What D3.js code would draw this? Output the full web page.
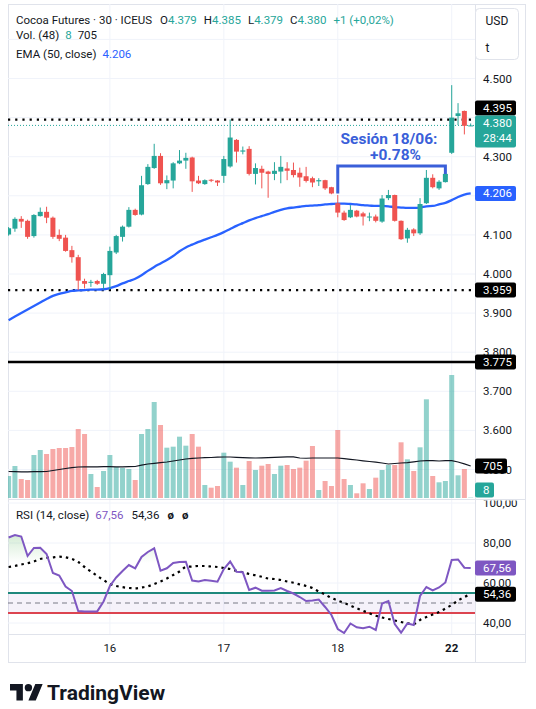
<!DOCTYPE html>
<html>
<head>
<meta charset="utf-8">
<script src="https://cdn.jsdelivr.net/npm/d3@7"></script>
<style>
  body { margin: 0; background: #fff; }
  svg { display: block; font-family: Roboto, "Liberation Sans", sans-serif; }
</style>
</head>
<body>
<svg id="chart" width="536" height="709"></svg>
<script>
// ---- data (30 min bars, 74 visible) ----
const openP = [4.101,4.116,4.141,4.136,4.097,4.148,4.159,4.144,4.100,4.093,
  4.061,4.043,3.982,3.978,3.982,3.975,3.997,4.055,4.095,4.121,
  4.164,4.152,4.230,4.271,4.302,4.232,4.239,4.283,4.290,4.298,
  4.239,4.230,4.241,4.239,4.251,4.275,4.343,4.313,4.320,4.256,
  4.269,4.262,4.256,4.262,4.270,4.266,4.259,4.250,4.245,4.237,
  4.240,4.222,4.181,4.157,4.145,4.162,4.155,4.146,4.147,4.134,
  4.194,4.202,4.136,4.091,4.114,4.104,4.181,4.246,4.219,4.235,
  4.310,4.404,4.417,4.379];
const highP = [4.120,4.145,4.148,4.139,4.153,4.170,4.172,4.147,4.114,4.100,
  4.072,4.049,3.988,3.985,3.985,4.003,4.070,4.100,4.124,4.171,
  4.167,4.251,4.281,4.333,4.309,4.252,4.286,4.317,4.310,4.300,
  4.251,4.242,4.243,4.240,4.302,4.395,4.345,4.326,4.327,4.283,
  4.277,4.264,4.286,4.302,4.286,4.285,4.272,4.274,4.249,4.245,
  4.241,4.223,4.202,4.162,4.176,4.164,4.159,4.157,4.152,4.202,
  4.215,4.203,4.137,4.118,4.117,4.194,4.266,4.255,4.240,4.276,
  4.483,4.437,4.418,4.385];
const lowP = [4.098,4.108,4.118,4.090,4.093,4.147,4.130,4.090,4.084,4.057,
  4.029,3.959,3.963,3.967,3.972,3.961,3.960,4.051,4.083,4.119,
  4.149,4.150,4.228,4.269,4.228,4.217,4.219,4.281,4.269,4.210,
  4.230,4.228,4.235,4.225,4.233,4.272,4.285,4.306,4.252,4.229,
  4.219,4.195,4.240,4.232,4.240,4.247,4.223,4.234,4.222,4.225,
  4.215,4.204,4.145,4.136,4.143,4.145,4.124,4.135,4.132,4.131,
  4.189,4.134,4.087,4.080,4.097,4.100,4.179,4.219,4.215,4.234,
  4.307,4.381,4.357,4.379];
const closeP = [4.117,4.141,4.134,4.095,4.151,4.159,4.144,4.095,4.090,4.059,
  4.043,3.983,3.975,3.980,3.975,4.000,4.059,4.097,4.121,4.164,
  4.151,4.227,4.274,4.302,4.232,4.240,4.283,4.290,4.297,4.237,
  4.232,4.240,4.239,4.234,4.294,4.349,4.313,4.316,4.256,4.271,
  4.259,4.256,4.264,4.274,4.264,4.253,4.247,4.238,4.234,4.240,
  4.219,4.206,4.157,4.138,4.164,4.147,4.147,4.147,4.136,4.193,
  4.202,4.136,4.089,4.113,4.104,4.179,4.246,4.222,4.236,4.256,
  4.400,4.411,4.379,4.380];
const ema50 = [3.882,3.891,3.900,3.909,3.918,3.927,3.936,3.944,3.949,3.953,
  3.957,3.958,3.959,3.960,3.960,3.961,3.964,3.969,3.976,3.982,
  3.988,3.997,4.008,4.018,4.027,4.036,4.046,4.058,4.068,4.075,
  4.082,4.088,4.094,4.100,4.107,4.115,4.123,4.130,4.137,4.143,
  4.148,4.153,4.159,4.164,4.168,4.170,4.172,4.174,4.175,4.176,
  4.178,4.179,4.180,4.180,4.179,4.178,4.176,4.175,4.174,4.174,
  4.173,4.171,4.170,4.169,4.169,4.170,4.173,4.174,4.178,4.182,
  4.189,4.197,4.203,4.206];
const volume = [484,704,418,396,946,1056,968,1078,1100,1100,
  1122,1518,1408,528,242,594,946,682,660,638,
  396,1408,1518,2112,1606,1107,1129,1349,1151,1408,
  1129,286,227,264,997,799,667,286,814,616,
  711,748,528,711,726,638,667,821,1144,176,
  374,264,1496,418,286,103,323,198,447,616,
  726,726,1225,851,594,1115,2171,484,345,374,
  2706,499,638,8];
const volMA = [583,579,576,576,579,581,583,605,627,649,
  667,682,686,686,686,689,689,686,686,689,
  693,722,748,763,777,792,814,836,858,873,
  880,887,891,898,902,902,895,889,884,880,
  884,889,893,898,904,905,880,875,880,880,
  880,880,880,867,851,836,818,803,788,770,
  748,759,770,777,796,814,821,821,814,821,
  821,792,750,705];
const rsi = [82.75,84.0,83.25,73.5,77.5,77.65,74.5,65.0,63.75,58.25,
  56.0,46.0,45.8,45.8,45.8,50.75,58.5,62.75,66.0,69.0,
  67.35,73.0,75.5,77.35,66.15,67.35,70.0,70.5,70.65,61.25,
  60.75,61.5,61.15,60.65,67.0,70.75,65.65,65.35,56.5,57.65,
  56.15,56.15,56.25,57.5,56.0,54.75,53.0,51.0,51.25,51.75,
  48.0,44.0,37.0,35.0,39.75,37.85,37.35,38.15,36.5,49.75,
  51.0,39.5,35.15,39.75,39.0,53.5,58.0,56.25,57.75,60.25,
  71.5,71.75,67.65,67.56];
const rsiMA = [68.0,68.5,69.25,69.85,70.75,72.0,72.5,72.85,73.15,72.85,
  72.0,70.5,68.0,65.75,63.5,61.5,59.5,58.5,57.9,57.5,
  57.35,57.75,58.35,59.5,60.75,62.25,64.0,65.75,68.0,68.25,
  68.5,68.5,68.25,68.0,67.5,67.0,66.1,65.35,64.5,63.85,
  63.1,62.25,62.0,61.5,60.75,60.15,59.25,58.5,57.5,55.75,
  54.25,52.5,51.25,50.0,48.75,47.35,46.1,44.85,43.65,42.75,
  42.0,41.25,40.5,39.85,39.5,41.5,43.0,44.25,45.5,47.25,
  49.0,51.25,53.0,54.36];

const dayIdx = [16, 34, 52, 70];
const dayLabels = ["16", "17", "18", "22"];
const priceTicks = [3.5,3.6,3.7,3.8,3.9,4.0,4.1,4.2,4.3,4.4,4.5,4.6];
const priceLabels = [3.5,3.6,3.7,3.8,3.9,4.0,4.1,4.3,4.5];   // the rest sit under tags
const rsiTicks = [40, 60, 80, 100];
const hLevels = [4.395, 3.959];       // dotted black levels
const supportLine = 3.775;             // solid black level
const rsiBands = [55, 50, 45];
// session annotation: from bar 52 to bar 69
const session = { from: 52, to: 69, p0: 4.206, p1: 4.256, top: 4.276 };

// ---- layout ----
const L = 8, R = 475, AX = 525, TOP = 4, MAINB = 499, RSIB = 634, BOT = 662;
const UP = "#26a69a", DN = "#ef5350";

const svg = d3.select("#chart");
const defs = svg.append("defs");
defs.append("clipPath").attr("id", "clipMain")
  .append("rect").attr("x", L).attr("y", TOP).attr("width", R - L).attr("height", MAINB - TOP);
defs.append("clipPath").attr("id", "clipRsi")
  .append("rect").attr("x", L).attr("y", MAINB).attr("width", R - L).attr("height", RSIB - MAINB);
defs.append("clipPath").attr("id", "clipRsiAxis")
  .append("rect").attr("x", R).attr("y", MAINB + 1.5).attr("width", AX - R).attr("height", RSIB - MAINB);

const x = d3.scaleLinear().domain([0, 73]).range([8.6, 470.7]);
const y = d3.scaleLinear().domain([3.5, 4.5]).range([469.5, 78.5]);
const yVol = d3.scaleLinear().domain([0, 2200]).range([498, 398]);
const yRsi = d3.scaleLinear().domain([40, 80]).range([623, 543]);

// frame
svg.append("rect").attr("x", L + 0.5).attr("y", TOP + 0.5)
  .attr("width", AX - L).attr("height", BOT - TOP)
  .attr("fill", "#fff").attr("stroke", "#e0e3eb");

// grid
const grid = svg.append("g").attr("stroke", "#f0f3fa").attr("stroke-width", 1);
grid.append("g").attr("clip-path", "url(#clipMain)").selectAll("line")
  .data(priceTicks).join("line")
  .attr("x1", L).attr("x2", R).attr("y1", d => y(d)).attr("y2", d => y(d));
grid.append("g").attr("clip-path", "url(#clipRsi)").selectAll("line")
  .data(rsiTicks).join("line")
  .attr("x1", L).attr("x2", R).attr("y1", d => yRsi(d)).attr("y2", d => yRsi(d));
grid.selectAll(".vg").data(dayIdx).join("line").attr("class", "vg")
  .attr("x1", d => x(d)).attr("x2", d => x(d)).attr("y1", TOP).attr("y2", RSIB);

// ---- main pane ----
const main = svg.append("g").attr("clip-path", "url(#clipMain)");

// volume
main.selectAll(".vol").data(volume).join("rect").attr("class", "vol")
  .attr("x", (d, i) => x(i) - 2.5).attr("width", 5)
  .attr("y", d => yVol(d)).attr("height", d => yVol(0) - yVol(d))
  .attr("fill", (d, i) => closeP[i] >= openP[i] ? UP : DN)
  .attr("fill-opacity", 0.5);
main.append("path").datum(volMA)
  .attr("d", d3.line().x((d, i) => x(i)).y(d => yVol(d)))
  .attr("fill", "none").attr("stroke", "#131722").attr("stroke-width", 1.2);

// levels
main.selectAll(".lvl").data(hLevels).join("line").attr("class", "lvl")
  .attr("x1", L).attr("x2", R).attr("y1", d => y(d)).attr("y2", d => y(d))
  .attr("stroke", "#000").attr("stroke-width", 2.2).attr("stroke-dasharray", "2.2,5");
main.append("line").attr("x1", L).attr("x2", R)
  .attr("y1", y(closeP[73])).attr("y2", y(closeP[73]))
  .attr("stroke", UP).attr("stroke-width", 1).attr("stroke-dasharray", "1,2");
main.append("line").attr("x1", L).attr("x2", R)
  .attr("y1", y(supportLine)).attr("y2", y(supportLine))
  .attr("stroke", "#000").attr("stroke-width", 2.5);

// EMA
main.append("path").datum(ema50)
  .attr("d", d3.line().x((d, i) => x(i)).y(d => y(d)).curve(d3.curveMonotoneX))
  .attr("fill", "none").attr("stroke", "#2962ff").attr("stroke-width", 2.3);

// candles
const candles = main.selectAll(".c").data(openP).join("g").attr("class", "c")
  .attr("fill", (d, i) => closeP[i] >= openP[i] ? UP : DN)
  .attr("stroke", (d, i) => closeP[i] >= openP[i] ? UP : DN);
candles.append("line")
  .attr("x1", (d, i) => x(i)).attr("x2", (d, i) => x(i))
  .attr("y1", (d, i) => y(highP[i])).attr("y2", (d, i) => y(lowP[i]))
  .attr("stroke-width", 1);
candles.append("rect")
  .attr("x", (d, i) => x(i) - 2.5).attr("width", 5)
  .attr("y", (d, i) => y(Math.max(openP[i], closeP[i])))
  .attr("height", (d, i) => Math.max(1, Math.abs(y(openP[i]) - y(closeP[i]))))
  .attr("stroke", "none");

// session annotation
const ANN = "#3a5fd9";
main.append("path")
  .attr("d", `M${x(session.from)},${y(session.p0)}V${y(session.top)}H${x(session.to)}V${y(session.p1)}`)
  .attr("fill", "none").attr("stroke", ANN).attr("stroke-width", 3);
main.append("text").attr("x", 389).attr("y", 144.3).attr("text-anchor", "middle")
  .attr("font-size", 15.5).attr("font-weight", "bold").attr("fill", ANN).text("Sesión 18/06:");
main.append("text").attr("x", 395.5).attr("y", 160).attr("text-anchor", "middle")
  .attr("font-size", 15.5).attr("font-weight", "bold").attr("fill", ANN).text("+0.78%");

// ---- RSI pane ----
const rp = svg.append("g").attr("clip-path", "url(#clipRsi)");
rp.append("rect").attr("x", L).attr("width", R - L)
  .attr("y", yRsi(55)).attr("height", yRsi(45) - yRsi(55))
  .attr("fill", "#7e57c2").attr("fill-opacity", 0.08);
const grad = defs.append("linearGradient").attr("id", "obGrad")
  .attr("gradientUnits", "userSpaceOnUse")
  .attr("x1", 0).attr("x2", 0).attr("y1", yRsi(100)).attr("y2", yRsi(70));
grad.append("stop").attr("offset", 0).attr("stop-color", "#4caf50").attr("stop-opacity", 0.5);
grad.append("stop").attr("offset", 1).attr("stop-color", "#4caf50").attr("stop-opacity", 0);
rp.append("path").datum(rsi)
  .attr("d", d3.area().x((d, i) => x(i)).y0(yRsi(70)).y1(d => yRsi(Math.max(d, 70))))
  .attr("fill", "url(#obGrad)");
rp.append("line").attr("x1", L).attr("x2", R).attr("y1", yRsi(rsiBands[0])).attr("y2", yRsi(rsiBands[0]))
  .attr("stroke", "#1e887c").attr("stroke-width", 2);
rp.append("line").attr("x1", L).attr("x2", R).attr("y1", yRsi(rsiBands[1])).attr("y2", yRsi(rsiBands[1]))
  .attr("stroke", "#787b86").attr("stroke-width", 1).attr("stroke-dasharray", "5,4");
rp.append("line").attr("x1", L).attr("x2", R).attr("y1", yRsi(rsiBands[2])).attr("y2", yRsi(rsiBands[2]))
  .attr("stroke", "#dc4450").attr("stroke-width", 2);
rp.append("path").datum(rsiMA)
  .attr("d", d3.line().x((d, i) => x(i)).y(d => yRsi(d)).curve(d3.curveMonotoneX))
  .attr("fill", "none").attr("stroke", "#000").attr("stroke-width", 2.2)
  .attr("stroke-dasharray", "2.5,4");
rp.append("path").datum(rsi)
  .attr("d", d3.line().x((d, i) => x(i)).y(d => yRsi(d)))
  .attr("fill", "none").attr("stroke", "#7e57c2").attr("stroke-width", 2);

// separators & axis border
const sep = svg.append("g").attr("stroke", "#e0e3eb").attr("stroke-width", 1);
sep.append("line").attr("x1", L).attr("x2", AX).attr("y1", MAINB + 0.5).attr("y2", MAINB + 0.5);
sep.append("line").attr("x1", L).attr("x2", AX).attr("y1", RSIB + 0.5).attr("y2", RSIB + 0.5);
sep.append("line").attr("x1", R + 0.5).attr("x2", R + 0.5).attr("y1", TOP).attr("y2", BOT);

// ---- right axis labels ----
const TX = 483;
const fmt3 = d3.format(".3f");
const rsiFmt = v => v.toFixed(2).replace(".", ",");
svg.append("g").selectAll("text").data(priceLabels).join("text")
  .attr("x", TX).attr("y", d => y(d) + 4).attr("font-size", 11.5).attr("fill", "#131722")
  .text(d => fmt3(d));
svg.append("g").attr("clip-path", "url(#clipRsiAxis)").selectAll("text").data(rsiTicks).join("text")
  .attr("x", TX).attr("y", d => yRsi(d) + 4).attr("font-size", 11.5).attr("fill", "#131722")
  .text(d => rsiFmt(d));

function tag(yc, lines, fill, w) {
  const h = lines.length === 1 ? 15 : 32;
  const g = svg.append("g");
  g.append("rect").attr("x", R).attr("y", yc - h / 2).attr("width", w).attr("height", h)
    .attr("rx", 2).attr("fill", fill);
  lines.forEach((t, k) => {
    g.append("text").attr("x", TX).attr("y", yc - h / 2 + 11.5 + k * 15)
      .attr("font-size", 11.5).attr("fill", "#fff").text(t);
  });
}
const curY = y(closeP[73]);
const curTop = curY - 10;
tag(curTop - 7.5, [fmt3(hLevels[0])], "#000", 41);
tag(curTop + 16, [fmt3(closeP[73]), "28:44"], UP, 41);
tag(y(ema50[73]), [fmt3(ema50[73])], "#2962ff", 41);
tag(y(hLevels[1]), [fmt3(hLevels[1])], "#000", 41);
tag(y(supportLine), [fmt3(supportLine)], "#000", 41);
tag(yVol(volMA[73]), [String(volMA[73])], "#000", 32);
tag(Math.min(yVol(volume[73]), MAINB - 9), [String(volume[73])], UP, 19);
tag(yRsi(rsi[73]), [rsiFmt(rsi[73])], "#7e57c2", 41);
tag(yRsi(rsiMA[73]), [rsiFmt(rsiMA[73])], "#000", 41);

// ---- x axis ----
svg.append("g").selectAll("text").data(dayIdx).join("text")
  .attr("x", d => x(d)).attr("y", 651.5).attr("text-anchor", "middle")
  .attr("font-size", 11.5).attr("fill", "#131722")
  .attr("font-weight", (d, i) => i === dayIdx.length - 1 ? "bold" : "normal")
  .text((d, i) => dayLabels[i]);

// ---- legend ----
const leg = svg.append("g").attr("font-size", 11.5).attr("fill", "#131722");
const l1 = leg.append("text").attr("x", 16).attr("y", 23.5);
l1.append("tspan").text("Cocoa Futures · 30 · ICEUS");
[["O", openP[73]], ["H", highP[73]], ["L", lowP[73]], ["C", closeP[73]]].forEach(([k, v], j) => {
  l1.append("tspan").attr("dx", j === 0 ? 8 : 7).text(k);
  l1.append("tspan").attr("fill", UP).text(fmt3(v));
});
l1.append("tspan").attr("dx", 7).attr("fill", UP).text("+1 (+0,02%)");
const l2 = leg.append("text").attr("x", 16).attr("y", 39);
l2.append("tspan").text("Vol. (48)");
l2.append("tspan").attr("dx", 6).attr("fill", UP).text(String(volume[73]));
l2.append("tspan").attr("dx", 6).text(String(volMA[73]));
const l3 = leg.append("text").attr("x", 16).attr("y", 57.5);
l3.append("tspan").text("EMA (50, close)");
l3.append("tspan").attr("dx", 6).attr("fill", "#2962ff").text(fmt3(ema50[73]));
const l4 = leg.append("text").attr("x", 16).attr("y", 518.5);
l4.append("tspan").text("RSI (14, close)");
l4.append("tspan").attr("dx", 6).attr("fill", "#7e57c2").text(rsiFmt(rsi[73]));
l4.append("tspan").attr("dx", 8).text(rsiFmt(rsiMA[73]));
l4.append("tspan").attr("dx", 8).attr("font-weight", "bold").text("ø");
l4.append("tspan").attr("dx", 8).attr("font-weight", "bold").text("ø");

// currency box
const cb = svg.append("g");
cb.append("rect").attr("x", 475.5).attr("y", 8.5).attr("width", 43).attr("height", 51)
  .attr("rx", 4).attr("fill", "#fff").attr("stroke", "#e0e3eb");
cb.append("text").attr("x", 485.5).attr("y", 25).attr("font-size", 12).attr("fill", "#131722").text("USD");
cb.append("text").attr("x", 485.5).attr("y", 51.5).attr("font-size", 12).attr("fill", "#131722").text("t");

// ---- logo ----
const logo = svg.append("g").attr("transform", "translate(10,680.3) scale(0.92)").attr("fill", "#131722");
logo.append("path").attr("d", "M14 22H7V11H0V4h14v18zM28 22h-8l7.5-18h8L28 22z");
logo.append("circle").attr("cx", 20).attr("cy", 8).attr("r", 4);
svg.append("text").attr("x", 47).attr("y", 699.5).attr("font-size", 21).attr("font-weight", "bold")
  .attr("fill", "#131722").text("TradingView");
</script>
</body>
</html>
